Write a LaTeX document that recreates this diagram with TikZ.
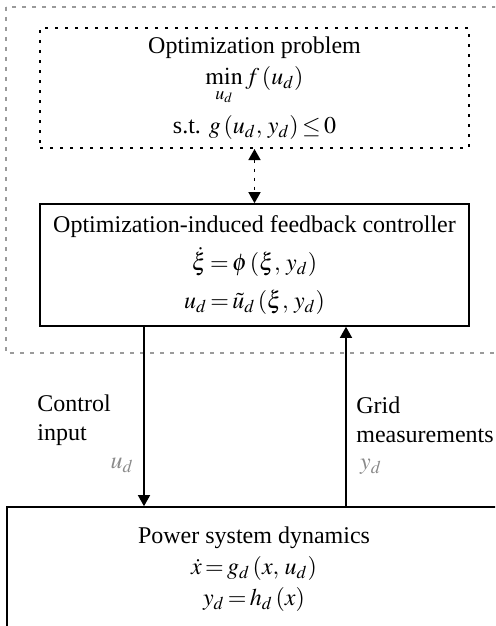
\documentclass[tikz,border=0pt]{standalone}
\usepackage{mathptmx}
\usepackage{fontspec}
\setmainfont{Liberation Serif}
\usetikzlibrary{arrows.meta, positioning}
\definecolor{lbl}{HTML}{8A8A8A}
\definecolor{frame}{HTML}{9A9A9A}
\AtBeginDocument{\thickmuskip=2.5mu\relax}

\begin{document}
\begin{tikzpicture}[
  x=0.5pt, y=-0.5pt,
  font=\fontsize{12}{14.5}\selectfont,
  box/.style={draw, line width=0.8pt, align=center, inner sep=0pt},
  dotbox/.style={box, line width=1pt, dash pattern=on 1.5pt off 3.5pt},
  flow/.style={line width=0.7pt, -{Triangle[length=5.5pt,width=6pt]}},
  sig/.style={text=lbl, inner sep=0pt},
]
\path[use as bounding box, clip] (0,0) rectangle (495,626);

% outer frame around the optimization layer
\draw[frame, line width=0.6pt, dash pattern=on 2pt off 3pt] (6,7) rectangle (520,353);

% blocks
\node[dotbox, minimum width=214.5pt, minimum height=60pt] (opt) at (254.5,88)
  {Optimization problem\\[1pt]
   $\displaystyle\min_{u_d} f\,(u_d)$\\[4pt]
   s.t. $g\,(u_d,\, y_d) \le 0$};
\node[box, minimum width=214.5pt, minimum height=61pt] (ctrl) at (254.5,265)
  {Optimization-induced feedback controller\\[4.5pt]
   $\dot{\xi} = \phi\,(\xi,\, y_d)$\\[4.5pt]
   $u_d = \tilde{u}_d\,(\xi,\, y_d)$};
\node[box, minimum width=247pt, minimum height=62pt] (power) at (254,569)
  {Power system dynamics\\[1pt]
   $\dot{x} = g_d\,(x,\, u_d)$\\[1pt]
   $y_d = h_d\,(x)$};

% connectors
\coordinate (cin) at (144,0);
\coordinate (cout) at (346,0);
\draw[flow, dash pattern=on 1.5pt off 3pt, {Triangle[length=5.5pt,width=6pt]}-{Triangle[length=5.5pt,width=6pt]}]
  (opt.south) -- (ctrl.north);
\draw[flow] (ctrl.south -| cin) -- (power.north -| cin);
\draw[flow] (power.north -| cout) -- (ctrl.south -| cout);

% signal labels
\node[anchor=west, align=left, inner sep=0pt] (cinlbl) at (37,420) {Control\\input};
\node[sig] (ud) at (122,465) {$u_d$};
\node[anchor=west, align=left, inner sep=0pt] (coutlbl) at (356,420) {Grid\\measurements};
\node[sig] (yd) at (371,467) {$y_d$};
\end{tikzpicture}
\end{document}
